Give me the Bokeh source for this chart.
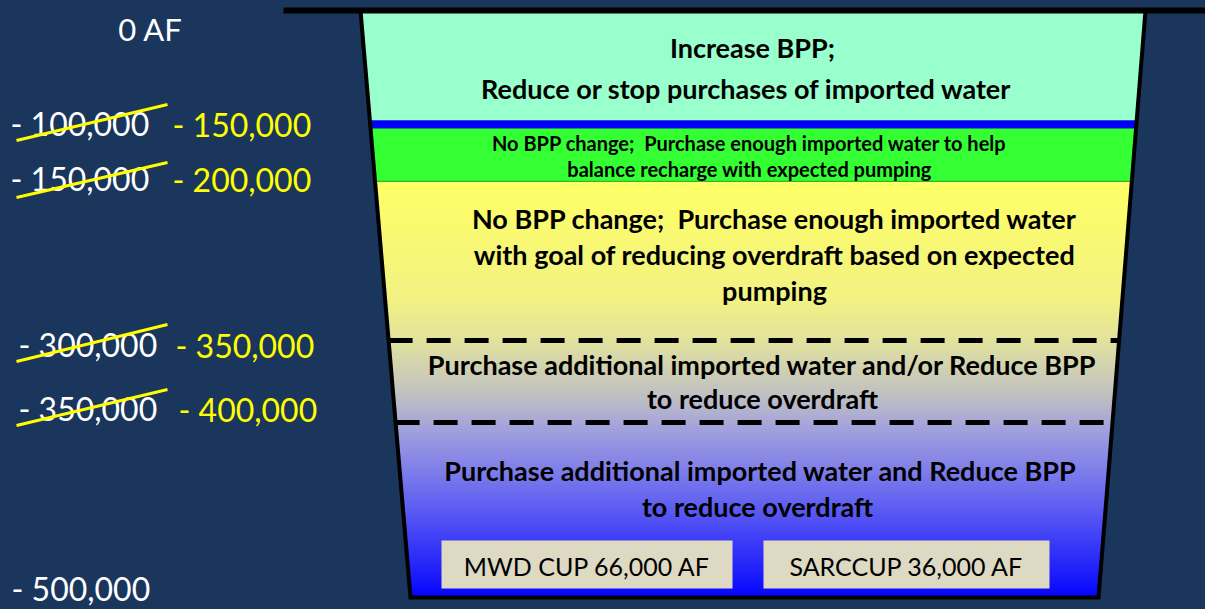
import numpy as np
from bokeh.plotting import figure
from bokeh.models import Range1d
from bokeh.core.properties import value
from bokeh.embed import file_html
from bokeh.resources import INLINE

# ---------------- data ----------------
zero_label = "0 AF"
bottom_label = "- 500,000"
old_labels = ["- 100,000", "- 150,000", "- 300,000", "- 350,000"]
new_labels = ["- 150,000", "- 200,000", "- 350,000", "- 400,000"]

top_zone = ["Increase BPP;", "Reduce or stop purchases of imported water"]
green_zone = ["No BPP change;\u00a0 Purchase enough imported water to help",
              "balance recharge with expected pumping"]
yellow_zone = ["No BPP change;\u00a0 Purchase enough imported water",
               "with goal of reducing overdraft based on expected",
               "pumping"]
gray_zone = ["Purchase additional imported water and/or Reduce BPP",
             "to reduce overdraft"]
blue_zone = ["Purchase additional imported water and Reduce BPP",
             "to reduce overdraft"]
programs = ["MWD CUP", "SARCCUP"]
program_af = [66000, 36000]

# ---------------- layout / style ----------------
BG = "#1A365D"
W, H = 1205, 609
FONT = value("Lato")

# vessel geometry (page pixel coordinates)
TOP_Y, BOT_Y = 10, 597
TL_X, TR_X = 360, 1145
BL_X, BR_X = 410, 1098


def left_edge(y):
    return TL_X + (BL_X - TL_X) * (y - TOP_Y) / (BOT_Y - TOP_Y)


def right_edge(y):
    return TR_X + (BR_X - TR_X) * (y - TOP_Y) / (BOT_Y - TOP_Y)


p = figure(width=W, height=H, x_range=Range1d(0, W), y_range=Range1d(H, 0),
           output_backend="svg", toolbar_location=None, min_border=0,
           x_axis_location=None, y_axis_location=None,
           background_fill_color=BG, border_fill_color=BG, outline_line_color=None)
p.grid.visible = False

# bands
p.quad(left=[340], right=[1160], top=[TOP_Y], bottom=[120], fill_color="#99FFCC", line_color=None)
p.quad(left=[340], right=[1160], top=[120], bottom=[128], fill_color="#0000FF", line_color=None)
p.quad(left=[340], right=[1160], top=[128], bottom=[181], fill_color="#33FF33", line_color=None)
p.segment(x0=[340], y0=[181], x1=[1160], y1=[181], line_color="#2EB82E", line_width=1.5)

# gradient yellow -> gray -> blue
stops_y = [182, 300, 340, 395, 430, 500, 597]
stops_c = [(255, 255, 102), (242, 242, 132), (226, 226, 158), (192, 192, 196),
           (160, 160, 222), (100, 100, 242), (5, 5, 255)]
ys = np.arange(182, 598, 2)
cols = []
for y in ys:
    r = np.interp(y, stops_y, [c[0] for c in stops_c])
    g = np.interp(y, stops_y, [c[1] for c in stops_c])
    b = np.interp(y, stops_y, [c[2] for c in stops_c])
    cols.append("#%02x%02x%02x" % (int(r), int(g), int(b)))
p.quad(left=340, right=1160, top=ys - 0.5, bottom=ys + 2.5, fill_color=cols, line_color=None)

# dashed separators
for yd in (340, 422):
    p.segment(x0=[left_edge(yd)], y0=[yd], x1=[right_edge(yd)], y1=[yd],
              line_color="black", line_width=5, line_dash="24 14")

# masks outside the vessel
p.patch([0, TL_X, TL_X, BL_X, BL_X, 0], [0, 0, TOP_Y, BOT_Y, 620, 620], fill_color=BG, line_color=None)
p.patch([TR_X, 1220, 1220, BR_X, BR_X, TR_X], [0, 0, 620, 620, BOT_Y, TOP_Y], fill_color=BG, line_color=None)

# vessel outline
p.line([TL_X, BL_X, BR_X, TR_X], [TOP_Y, BOT_Y, BOT_Y, TOP_Y], line_color="black", line_width=4,
       line_join="miter")
p.segment(x0=[283], y0=[10], x1=[1210], y1=[10], line_color="black", line_width=6)

# zone texts
def zone_text(lines, xs, ys_, size):
    p.text(x=xs, y=ys_, text=lines, text_font=FONT, text_font_style="bold",
           text_font_size=size, text_color="black", text_align="center", text_baseline="middle")

zone_text(top_zone, [752, 746], [47, 88], "27px")
zone_text(green_zone, [749, 749], [142, 168], "20px")
zone_text(yellow_zone, [774, 774, 774], [218, 254, 290], "27px")
zone_text(gray_zone, [762, 762], [364, 398], "27px")
zone_text(blue_zone, [760, 757], [470, 506], "27px")

# program boxes
box_l = [441, 763]
box_r = [732, 1049]
p.quad(left=box_l, right=box_r, top=[540, 540], bottom=[588, 588], fill_color="#DDD9C3", line_color=None)
p.text(x=[(a + b) / 2 for a, b in zip(box_l, box_r)], y=[565, 565],
       text=[f"{n} {af:,} AF" for n, af in zip(programs, program_af)],
       text_font=FONT, text_font_size="25px", text_color="black",
       text_align="center", text_baseline="middle")

# left depth labels
LBL = "32px"
p.text(x=[150], y=[28], text=[zero_label], text_font=FONT, text_font_size="31px",
       text_color="white", text_align="center", text_baseline="middle")
p.text(x=[11], y=[588], text=[bottom_label], text_font=FONT, text_font_size=LBL,
       text_color="white", text_align="left", text_baseline="middle")
old_x = [10, 10, 18, 18]
lab_y = [123, 178, 344, 408]
p.text(x=old_x, y=lab_y, text=old_labels, text_font=FONT, text_font_size=LBL,
       text_color="white", text_align="left", text_baseline="middle")
new_x = [172, 172, 175, 178]
p.text(x=new_x, y=[124, 179, 345, 409], text=new_labels, text_font=FONT, text_font_size=LBL,
       text_color="#FFFF00", text_align="left", text_baseline="middle")
# strike-through marks
p.segment(x0=[16, 16, 16, 16], y0=[140, 197, 361, 425], x1=[167, 167, 167, 167],
          y1=[104, 162, 324, 389], line_color="#FFFF00", line_width=3)

html = file_html(p, INLINE, title="BPP",
                 template="{% block preamble %}<style>html,body{background-color:#1A365D;}</style>{% endblock %}")
open("out.html", "w").write(html)
